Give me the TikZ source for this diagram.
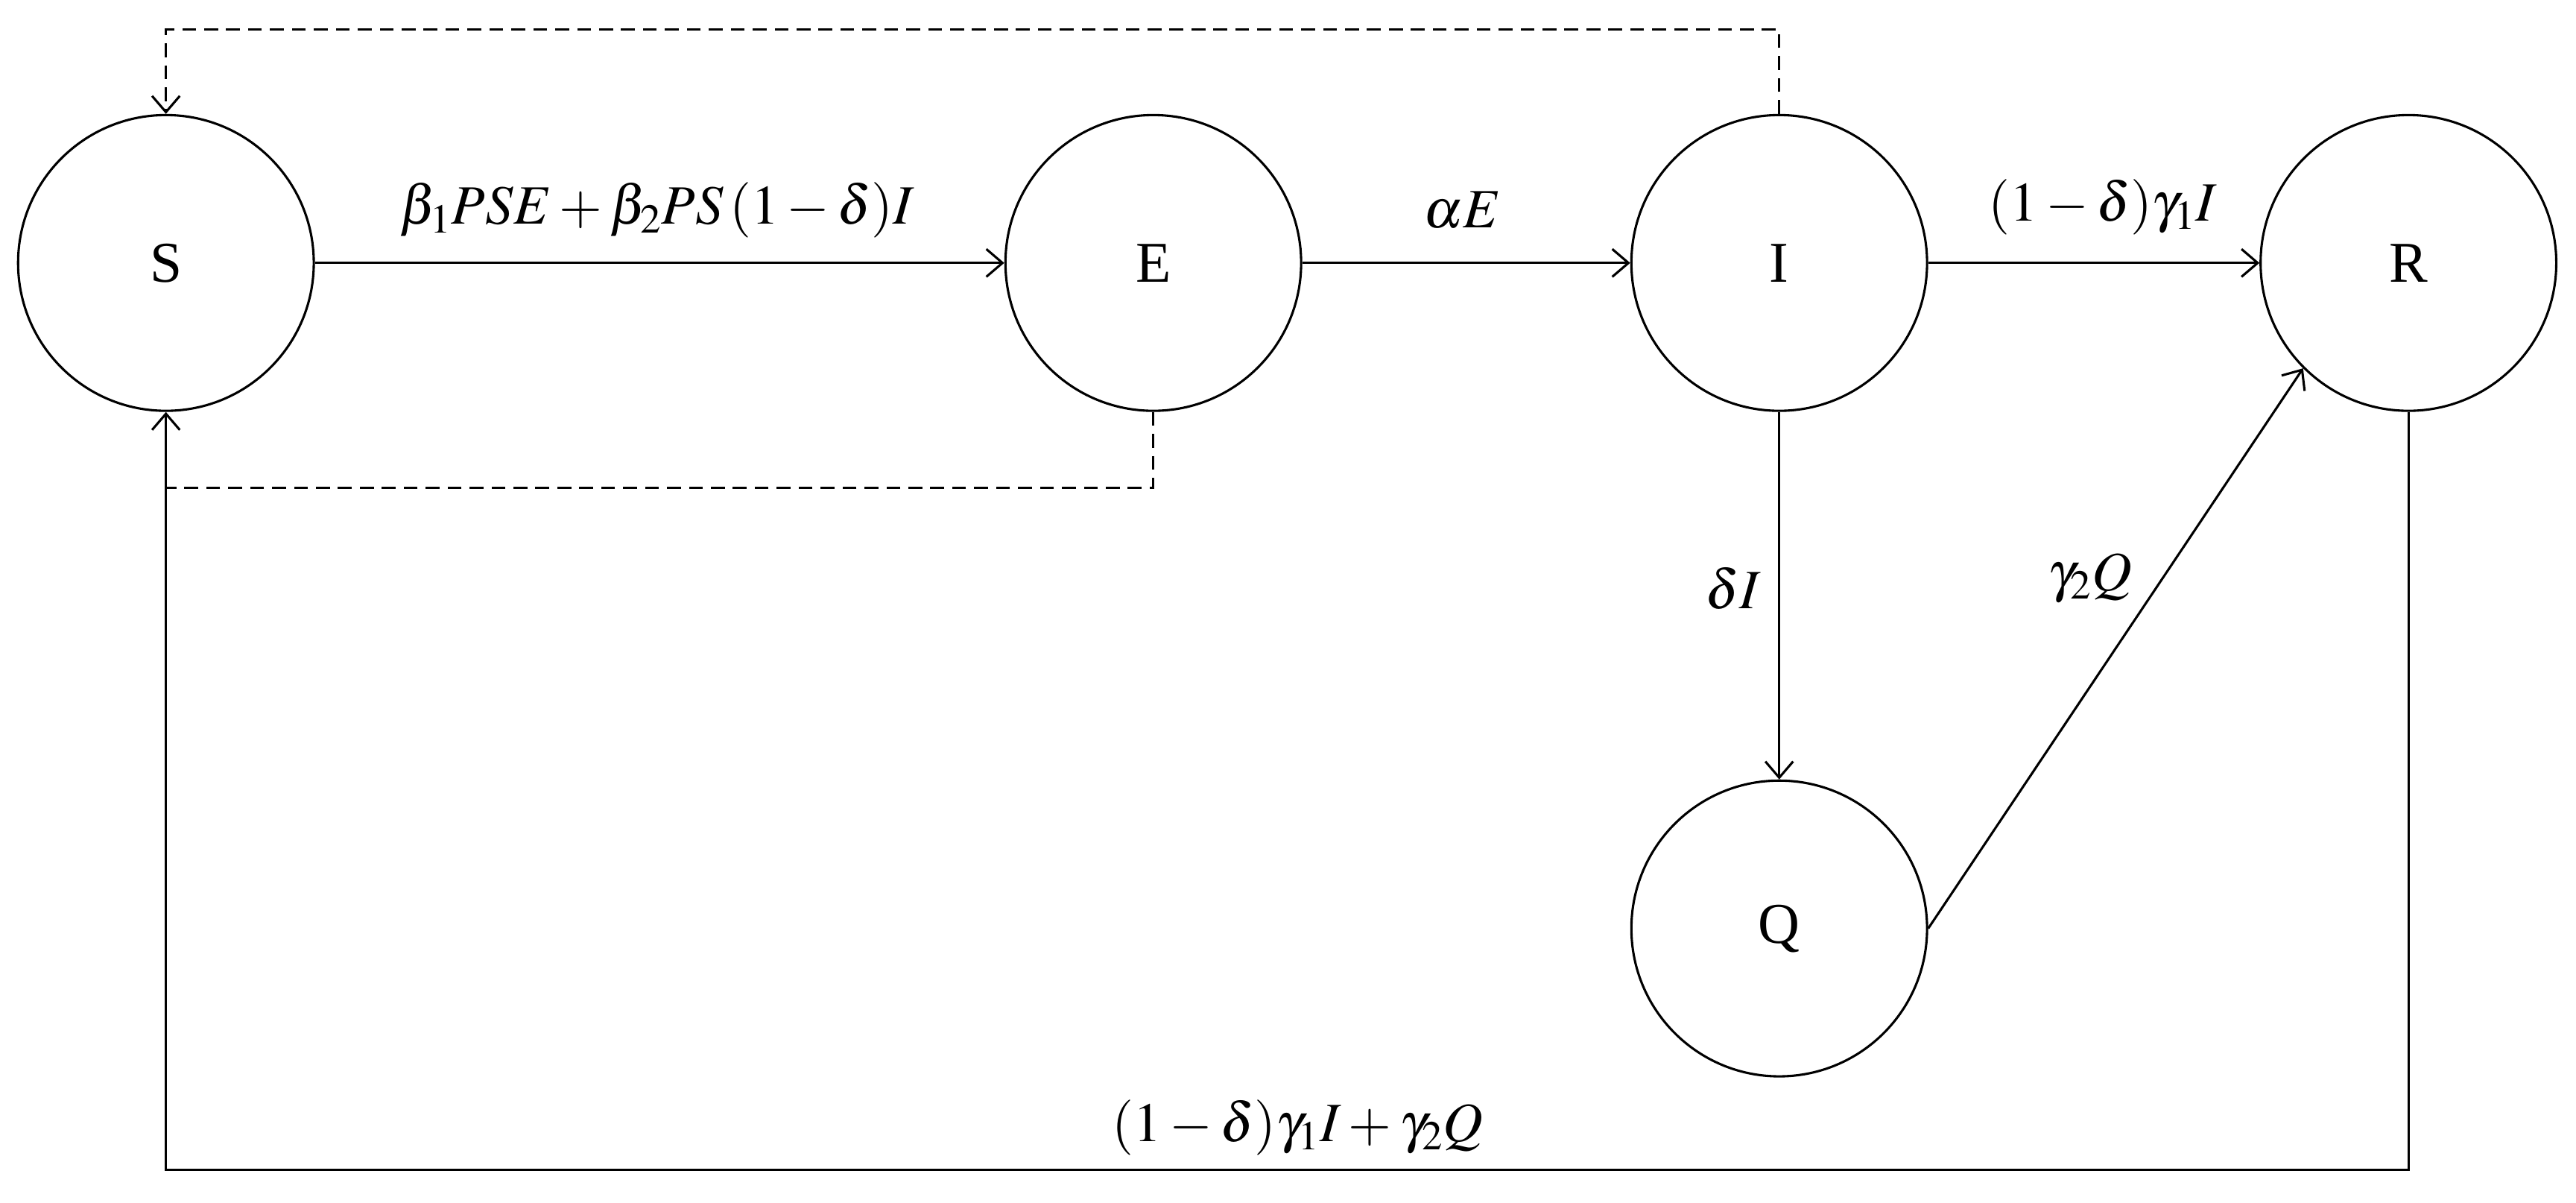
\documentclass[tikz,border=0pt]{standalone}
\usepackage{mathptmx}
\usepackage{fontspec}
\setmainfont{Liberation Serif}
\usetikzlibrary{arrows.meta}
\begin{document}
\begin{tikzpicture}[x=0.05cm,y=-0.05cm,
  st/.style={circle,draw,line width=2pt,minimum size=9cm,inner sep=0pt,font=\fontsize{50}{60}\selectfont},
  ln/.style={line width=2pt},
  ds/.style={dash pattern=on 12pt off 7pt},
  ar/.style={ln,-{Straight Barb[length=14pt,width=24pt]}},
  lb/.style={font=\fontsize{48}{56}\selectfont}]
\useasboundingbox (0,0) rectangle (1568,732);
\node[st] (S) at (101,160) {S};
\node[st] (E) at (702,160) {E};
\node[st] (I) at (1083,160) {I};
\node[st] (R) at (1466,160) {R};
\node[st] (Q) at (1083,565) {Q};
\coordinate (t1) at (1083,18);
\coordinate (t2) at (101,18);
\coordinate (b1) at (702,297);
\coordinate (b2) at (101,297);
\coordinate (c1) at (1466,712);
\coordinate (c2) at (101,712);
\draw[ar] (S) -- (E);
\draw[ar] (E) -- (I);
\draw[ar] (I) -- (R);
\draw[ar] (I) -- (Q);
\draw[ar] (Q.east) -- (R.south west);
\draw[ar,ds] (I.north) -- (t1) -- (t2) -- (S.north);
\draw[ln,ds] (E.south) -- (b1) -- (b2);
\draw[ar] (R.south) -- (c1) -- (c2) -- (S.south);
\node[lb] (l1) at (400,128) {$\beta_1PSE+\beta_2PS\,(1-\delta)I$};
\node[lb] (l2) at (890,128) {$\alpha E$};
\node[lb] (l3) at (1280,126) {$(1-\delta)\gamma_1 I$};
\node[lb] (l4) at (1055,358) {$\delta I$};
\node[lb] (l5) at (1272,352) {$\gamma_2 Q$};
\node[lb] (l6) at (790,686) {$(1-\delta)\gamma_1 I+\gamma_2 Q$};
\end{tikzpicture}
\end{document}
